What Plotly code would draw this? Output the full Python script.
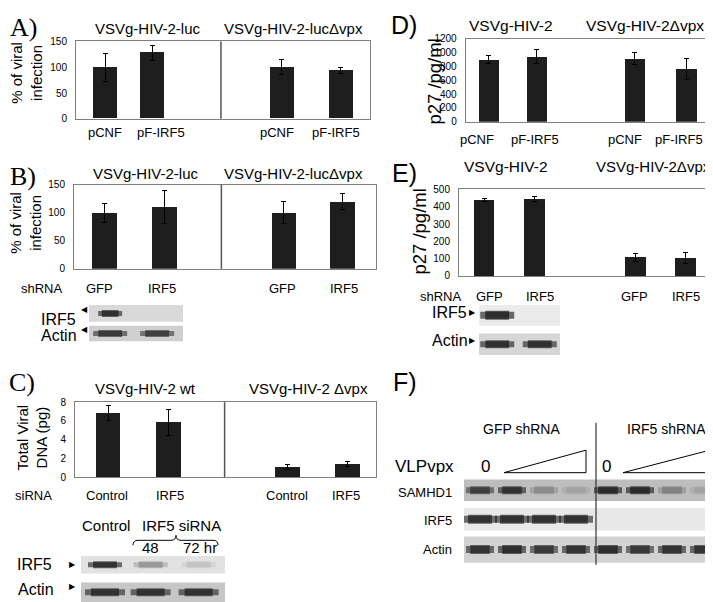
import plotly.graph_objects as go

W, H = 713, 602

# ---------------- data ----------------
# A) % of viral infection, overexpression
a_x = [1.0, 2.6, 7.0, 9.0]
a_val = [100, 128, 100, 93]
a_err = [27, 14, 15, 6]
a_lab = ["pCNF", "pF-IRF5", "pCNF", "pF-IRF5"]
a_lab_x = [1.0, 2.9, 6.85, 8.85]

# B) % of viral infection, shRNA
b_x = [1.0, 3.0, 6.95, 8.9]
b_val = [100, 110, 100, 120]
b_err = [17, 30, 20, 14]
b_lab = ["GFP", "IRF5", "GFP", "IRF5"]
b_lab_x = [0.86, 2.93, 6.9, 8.94]

# C) total viral DNA (pg), siRNA
c_x = [1.1, 3.1, 7.05, 9.05]
c_val = [6.85, 5.85, 1.1, 1.4]
c_err = [0.8, 1.4, 0.25, 0.3]
c_lab = ["Control", "IRF5", "Control", "IRF5"]
c_lab_x = [1.06, 3.14, 7.04, 9.0]

# D) p27 pg/ml, overexpression
d_x = [0.95, 2.9, 6.9, 9.0]
d_val = [900, 940, 910, 765]
d_err = [60, 95, 90, 150]
d_lab = ["pCNF", "pF-IRF5", "pCNF", "pF-IRF5"]
d_lab_x = [0.48, 2.81, 6.52, 8.69]

# E) p27 pg/ml, shRNA
e_x = [1.0, 3.0, 7.0, 9.0]
e_val = [437, 443, 107, 103]
e_err = [8, 14, 22, 33]
e_lab = ["GFP", "IRF5", "GFP", "IRF5"]
e_lab_x = [1.22, 3.21, 6.98, 9.02]

# western blots: relative band intensity per lane (0 = no band)
b_lanes = [0.45, 1.45]
b_irf5 = [0.95, 0.0]
b_actin = [0.85, 0.8]
c_lanes = [0.5, 1.45, 2.45]
c_irf5 = [0.95, 0.3, 0.12]
c_actin = [0.9, 0.9, 0.9]
e_lanes = [0.45, 1.5]
e_irf5 = [1.0, 0.0]
e_actin = [0.95, 0.95]
f_lanes = [0.5, 1.5, 2.5, 3.5, 4.5, 5.5, 6.5, 7.5]
f_samhd1 = [0.75, 0.9, 0.25, 0.12, 0.95, 0.95, 0.3, 0.12]
f_irf5 = [0.95, 0.95, 0.95, 0.95, 0.0, 0.0, 0.0, 0.0]
f_actin = [0.9, 0.95, 0.85, 0.9, 0.95, 0.85, 0.9, 0.9]

SANS = "Liberation Sans, Arial, sans-serif"
SERIF = "Liberation Serif, Times New Roman, serif"
BOX = "#808080"


def px(p):
    return p / W


def py(p):
    return 1 - p / H


fig = go.Figure()
layout = {}
annotations = []
shapes = []
count = [0]


def new_axes(left, right, top, bottom):
    count[0] += 1
    s = "" if count[0] == 1 else str(count[0])
    layout["xaxis" + s] = dict(domain=[px(left), px(right)], anchor="y" + s)
    layout["yaxis" + s] = dict(domain=[py(bottom), py(top)], anchor="x" + s)
    return s


def text(t, x, y, size=13, font=SANS, xanchor="center", angle=0, xref="paper"):
    annotations.append(dict(
        text=t, x=x if xref != "paper" else px(x), y=py(y), xref=xref, yref="paper",
        showarrow=False, xanchor=xanchor, yanchor="middle", textangle=angle,
        font=dict(family=font, size=size, color="black"),
    ))


def bar_panel(box, xs, vals, errs, yr, dtick, labels, lab_x, lab_y, divider=None):
    s = new_axes(*box)
    layout["xaxis" + s].update(range=[0, 10], showline=True, mirror=True, linecolor=BOX,
                               linewidth=1, showticklabels=False, showgrid=False,
                               zeroline=False, ticks="")
    layout["yaxis" + s].update(range=yr, dtick=dtick, showline=True, mirror=True,
                               linecolor=BOX, linewidth=1, showgrid=False, zeroline=False,
                               ticks="", ticklabelstandoff=6,
                               tickfont=dict(family=SANS, size=10, color="black"))
    fig.add_trace(go.Bar(
        x=xs, y=vals, width=0.82, marker=dict(color="#1e1e1e", line_width=0),
        error_y=dict(type="data", array=errs, color="black", thickness=1, width=2.5),
        xaxis="x" + s, yaxis="y" + s, showlegend=False, hoverinfo="skip",
    ))
    for t, xv in zip(labels, lab_x):
        text(t, xv, lab_y, size=13, xref="x" + s)
    if divider is not None:
        shapes.append(dict(type="line", xref="x" + s, yref="y" + s + " domain",
                           x0=divider, x1=divider, y0=0, y1=1,
                           line=dict(color="#555555", width=1.5)))


def blot_row(box, lanes, intens, n, bg, band_w, band_h):
    # line-ew markers are drawn 1.4x the marker size, so scale the band length down
    s = new_axes(*box)
    layout["xaxis" + s].update(range=[0, n], visible=False)
    layout["yaxis" + s].update(range=[0, 1], visible=False)
    shapes.append(dict(type="rect", xref="x" + s + " domain", yref="y" + s + " domain",
                       x0=0, x1=1, y0=0, y1=1, fillcolor=bg, line_width=0, layer="below"))
    outer = ["rgba(15,15,15,%.2f)" % (0.6 * v) for v in intens]
    inner = ["rgba(15,15,15,%.2f)" % (0.65 * v) for v in intens]
    fig.add_trace(go.Scatter(
        x=lanes, y=[0.5] * len(lanes), mode="markers", xaxis="x" + s, yaxis="y" + s,
        marker=dict(symbol="line-ew", size=band_w / 1.4, line=dict(width=band_h, color=outer)),
        showlegend=False, hoverinfo="skip"))
    fig.add_trace(go.Scatter(
        x=lanes, y=[0.5] * len(lanes), mode="markers", xaxis="x" + s, yaxis="y" + s,
        marker=dict(symbol="line-ew", size=band_w * 0.7 / 1.4,
                    line=dict(width=band_h + 2, color=inner)),
        showlegend=False, hoverinfo="skip"))


# ---------------- bar panels ----------------
bar_panel((68, 362, 28, 107), a_x, a_val, a_err, [0, 150], 50, a_lab, a_lab_x, 121, 4.93)
bar_panel((66, 368, 174, 260), b_x, b_val, b_err, [0, 150], 50, b_lab, b_lab_x, 280, 4.88)
bar_panel((67, 368, 396, 472.5), c_x, c_val, c_err, [0, 8], 2, c_lab, c_lab_x, 491, 4.97)
bar_panel((457.7, 702.7, 25, 110), d_x, d_val, d_err, [0, 1200], 200, d_lab, d_lab_x, 128)
bar_panel((451, 702.7, 179, 267.3), e_x, e_val, e_err, [0, 500], 100, e_lab, e_lab_x, 288)

# ---------------- blots ----------------
blot_row((81, 175, 297, 314), b_lanes, b_irf5, 2, "#d9d9d9", 24, 5)
blot_row((81, 175, 318, 334), b_lanes, b_actin, 2, "#cfcfcf", 34, 5)
blot_row((73, 217, 553, 571), c_lanes, c_irf5, 3, "#e2e2e2", 34, 5)
blot_row((73, 217, 580, 600), c_lanes, c_actin, 3, "#c6c6c6", 40, 6)
blot_row((471, 552, 297, 318), e_lanes, e_irf5, 2, "#ebebeb", 34, 7)
blot_row((471, 552, 326, 348), e_lanes, e_actin, 2, "#d6d6d6", 34, 6)
blot_row((456, 712, 475, 497), f_lanes, f_samhd1, 8, "#bdbdbd", 28, 6)
blot_row((456, 712, 504, 527), f_lanes, f_irf5, 8, "#e8e8e8", 34, 7)
blot_row((456, 712, 533, 560), f_lanes, f_actin, 8, "#d2d2d2", 28, 7)

# ---------------- panel letters ----------------
text("A)", 15, 14, size=26, font=SERIF)
text("B)", 15, 166, size=26, font=SERIF)
text("C)", 14, 376, size=26, font=SERIF)
text("D)", 396, 11, size=25)
text("E)", 396, 162, size=25)
text("F)", 397, 375, size=25)

# ---------------- titles ----------------
text("VSVg-HIV-2-luc", 140, 15, size=15)
text("VSVg-HIV-2-lucΔvpx", 285, 15, size=15)
text("VSVg-HIV-2-luc", 138, 163, size=15)
text("VSVg-HIV-2-lucΔvpx", 285, 163, size=15)
text("VSVg-HIV-2 wt", 137, 382, size=15)
text("VSVg-HIV-2 Δvpx", 300, 382, size=15)
text("VSVg-HIV-2", 503, 12, size=15.5)
text("VSVg-HIV-2Δvpx", 637, 12, size=15.5)
text("VSVg-HIV-2", 498, 156, size=15.5)
text("VSVg-HIV-2Δvpx", 645, 156, size=15)

# ---------------- y-axis titles ----------------
text("% of viral<br>infection", 19, 60, size=15, angle=-90)
text("% of viral<br>infection", 18, 213, size=15, angle=-90)
text("Total Viral<br>DNA (pg)", 24, 432, size=15, angle=-90)
text("p27 /pg/ml", 427, 69, size=18.5, angle=-90)
text("p27 /pg/ml", 412, 222, size=18.5, angle=-90)

# ---------------- row labels ----------------
text("shRNA", 34, 280, size=13)
text("siRNA", 25, 491, size=13)
text("shRNA", 433, 288, size=13)

text("IRF5", 31, 312, size=16, xanchor="left")
text("Actin", 31, 328, size=16, xanchor="left")
text("◀", 82, 302, size=8, xanchor="right")
text("◀", 82, 322, size=8, xanchor="right")

text("Control", 98, 522, size=15)
text("IRF5 siRNA", 173, 522, size=15)
text("48", 142, 544, size=15)
text("72 hr", 192, 544, size=15)
text("IRF5", 7, 562, size=16, xanchor="left")
text("Actin", 8, 587, size=16, xanchor="left")
text("▶", 70, 562, size=8, xanchor="right")
text("▶", 70, 584, size=8, xanchor="right")

text("IRF5", 461, 305, size=16, xanchor="right")
text("Actin", 462, 333, size=16, xanchor="right")
text("▶", 470, 305, size=8, xanchor="right")
text("▶", 470, 333, size=8, xanchor="right")

text("GFP shRNA", 513, 423, size=14)
text("IRF5 shRNA", 658, 423, size=14)
text("VLPvpx", 385, 462, size=17, xanchor="left")
text("0", 477, 462, size=17)
text("0", 598, 462, size=17)
text("SAMHD1", 446, 488, size=13, xanchor="right")
text("IRF5", 446, 517, size=13, xanchor="right")
text("Actin", 446, 546, size=13, xanchor="right")


def path(points, close=False):
    d = "M " + " L ".join("%.5f,%.5f" % (px(x), py(y)) for x, y in points)
    return d + (" Z" if close else "")


# dose wedges and divider in F
for x0, x1 in [(496, 578), (615, 702)]:
    shapes.append(dict(type="path", xref="paper", yref="paper",
                       path=path([(x0, 468), (x1, 468), (x1, 445)], close=True),
                       line=dict(color="black", width=1)))
shapes.append(dict(type="line", xref="paper", yref="paper", x0=px(588), x1=px(588),
                   y0=py(417), y1=py(562), line=dict(color="#333333", width=1.2)))

# brace over the IRF5 siRNA lanes in C
brace = ("M %.5f,%.5f Q %.5f,%.5f %.5f,%.5f L %.5f,%.5f Q %.5f,%.5f %.5f,%.5f "
         "Q %.5f,%.5f %.5f,%.5f L %.5f,%.5f Q %.5f,%.5f %.5f,%.5f") % (
    px(125), py(542), px(125), py(537), px(130), py(537), px(163), py(537),
    px(168), py(537), px(168), py(532), px(168), py(537), px(173), py(537),
    px(205), py(537), px(210), py(537), px(210), py(542))
shapes.append(dict(type="path", xref="paper", yref="paper", path=brace,
                   line=dict(color="black", width=1)))

layout.update(
    width=W, height=H, margin=dict(l=0, r=0, t=0, b=0),
    paper_bgcolor="white", plot_bgcolor="rgba(0,0,0,0)",
    annotations=annotations, shapes=shapes, showlegend=False,
    font=dict(family=SANS, color="black"), bargap=0,
)
fig.update_layout(**layout)
fig.write_html("out.html")
